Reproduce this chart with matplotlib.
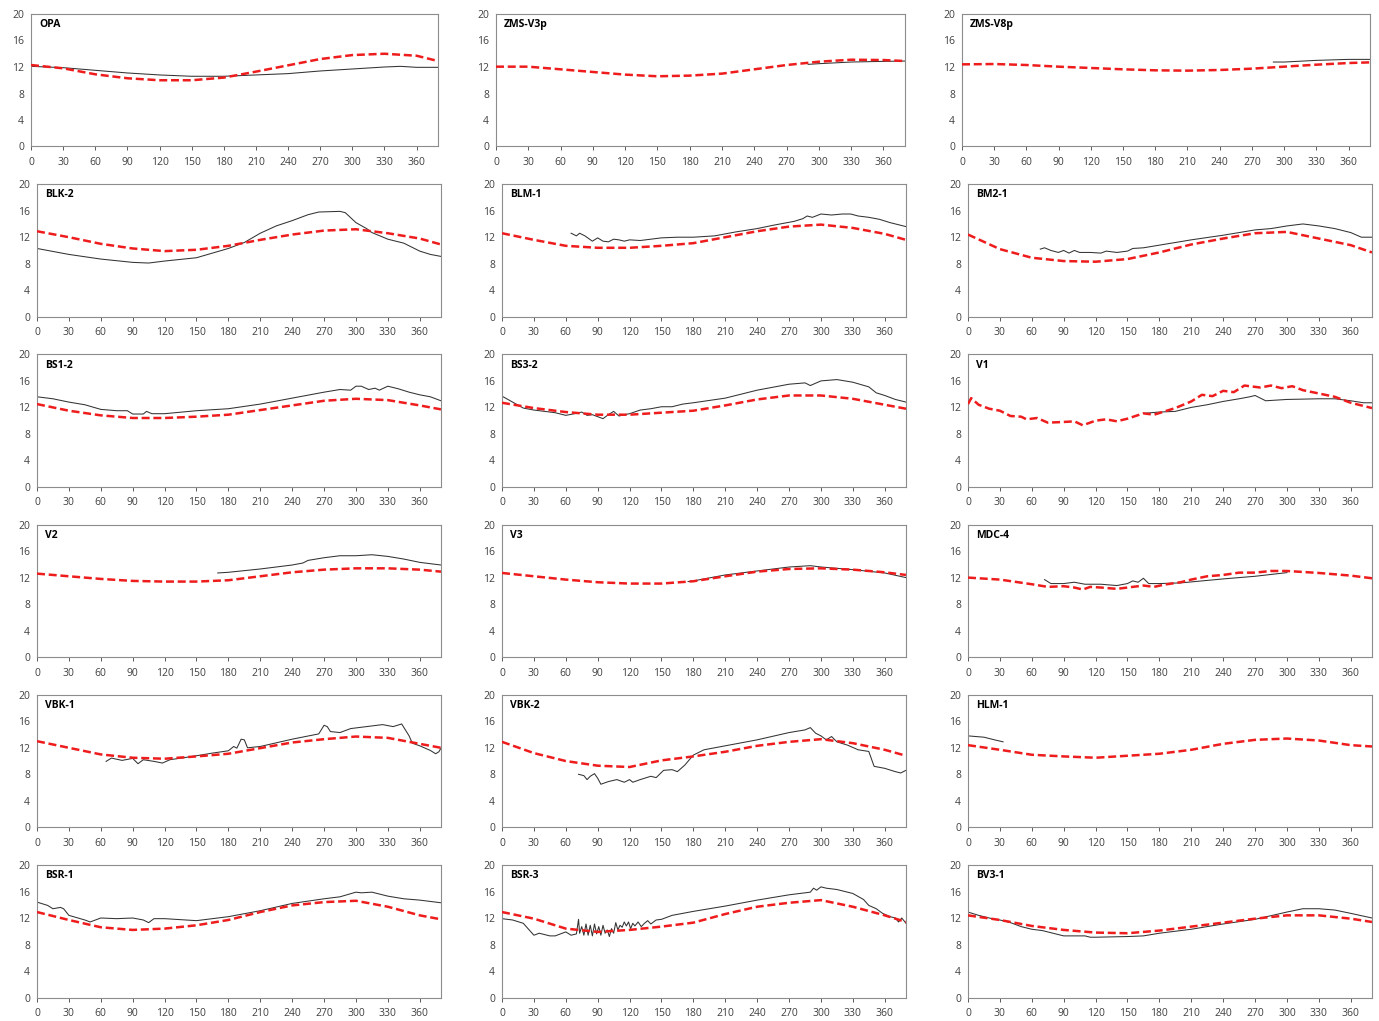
import matplotlib
matplotlib.use("Agg")
import matplotlib.pyplot as plt

plt.rcParams['font.family'] = ['Open Sans', 'DejaVu Sans']

names = ["OPA", "ZMS-V3p", "ZMS-V8p",
         "BLK-2", "BLM-1", "BM2-1",
         "BS1-2", "BS3-2", "V1",
         "V2", "V3", "MDC-4",
         "VBK-1", "VBK-2", "HLM-1",
         "BSR-1", "BSR-3", "BV3-1"]

xticks = [0, 30, 60, 90, 120, 150, 180, 210, 240, 270, 300, 330, 360]
yticks = [0, 4, 8, 12, 16, 20]

# ---- model (red dashed) ----
model_x = [0, 30, 60, 90, 120, 150, 180, 210, 240, 270, 300, 330, 360, 380]
OPA_model = [12.3, 11.8, 10.9, 10.3, 10.0, 10.0, 10.4, 11.3, 12.25, 13.2, 13.8, 14.0, 13.7, 12.9]
ZMSV3p_model = [12.05, 12.05, 11.65, 11.25, 10.85, 10.6, 10.7, 11.0, 11.65, 12.3, 12.8, 13.1, 13.05, 12.9]
ZMSV8p_model = [12.4, 12.45, 12.3, 12.05, 11.85, 11.65, 11.5, 11.45, 11.55, 11.75, 12.05, 12.35, 12.6, 12.7]
BLK2_model = [12.9, 12.0, 11.0, 10.3, 9.9, 10.1, 10.7, 11.6, 12.4, 13.0, 13.2, 12.6, 11.8, 10.9]
BLM1_model = [12.6, 11.6, 10.7, 10.4, 10.4, 10.7, 11.1, 12.0, 12.9, 13.6, 13.9, 13.4, 12.5, 11.6]
BM21_model = [12.4, 10.2, 8.9, 8.4, 8.3, 8.7, 9.7, 10.9, 11.8, 12.6, 12.8, 11.8, 10.8, 9.7]
BS12_model = [12.5, 11.5, 10.8, 10.4, 10.4, 10.6, 10.9, 11.6, 12.3, 13.0, 13.3, 13.1, 12.3, 11.7]
BS32_model = [12.7, 11.9, 11.3, 10.9, 10.9, 11.2, 11.5, 12.3, 13.2, 13.8, 13.8, 13.3, 12.4, 11.8]
V2_model = [12.6, 12.2, 11.8, 11.5, 11.4, 11.4, 11.6, 12.2, 12.8, 13.2, 13.4, 13.4, 13.2, 12.9]
V3_model = [12.7, 12.2, 11.7, 11.3, 11.1, 11.1, 11.45, 12.2, 12.9, 13.3, 13.4, 13.2, 12.8, 12.4]
VBK1_model = [13.0, 12.0, 11.0, 10.5, 10.35, 10.7, 11.1, 11.95, 12.8, 13.3, 13.7, 13.5, 12.6, 12.0]
VBK2_model = [12.9, 11.2, 10.0, 9.3, 9.1, 10.1, 10.7, 11.4, 12.3, 12.9, 13.3, 12.7, 11.7, 10.8]
HLM1_model = [12.4, 11.7, 10.95, 10.7, 10.5, 10.8, 11.1, 11.7, 12.6, 13.2, 13.4, 13.1, 12.4, 12.2]
BSR1_model = [12.9, 11.7, 10.6, 10.2, 10.4, 10.9, 11.7, 12.9, 13.9, 14.4, 14.6, 13.7, 12.4, 11.8]
BSR3_model = [12.9, 11.9, 10.4, 9.9, 10.2, 10.7, 11.3, 12.6, 13.7, 14.3, 14.7, 13.7, 12.4, 11.4]
BV31_model = [12.4, 11.7, 10.8, 10.2, 9.8, 9.7, 10.1, 10.7, 11.3, 11.9, 12.4, 12.4, 11.9, 11.4]

V1_model_x = [0, 3, 10, 20, 30, 40, 50, 55, 65, 75, 90, 100, 108, 120, 130, 140, 150, 165, 175, 185,
              195, 210, 220, 230, 240, 250, 260, 275, 285, 295, 305, 315, 330, 345, 360, 380]
V1_model = [12.5, 13.4, 12.4, 11.8, 11.5, 10.7, 10.6, 10.2, 10.4, 9.7, 9.8, 9.9, 9.3, 10.0, 10.2, 9.9, 10.3, 11.1, 10.9, 11.4,
            11.9, 12.9, 13.9, 13.7, 14.5, 14.3, 15.3, 15.0, 15.3, 14.9, 15.2, 14.6, 14.1, 13.6, 12.7, 11.9]
MDC4_model_x = [0, 30, 60, 75, 90, 100, 108, 115, 125, 140, 155, 165, 175, 185, 200, 210, 225, 240, 255,
                270, 285, 300, 330, 360, 380]
MDC4_model = [12.0, 11.7, 11.0, 10.6, 10.7, 10.5, 10.2, 10.6, 10.5, 10.3, 10.6, 10.8, 10.6, 10.95, 11.3, 11.7, 12.2, 12.4, 12.75,
              12.75, 13.0, 13.0, 12.7, 12.3, 11.9]

# ---- observations (black) ----
OPA_obs_x = [0, 30, 60, 90, 120, 150, 180, 210, 240, 270, 300, 330, 345, 360, 380]
OPA_obs = [12.1, 11.9, 11.5, 11.1, 10.8, 10.6, 10.6, 10.8, 11.0, 11.4, 11.7, 12.0, 12.1, 11.95, 11.95]
ZMSV3p_obs_x = [290, 300, 330, 360, 380]
ZMSV3p_obs = [12.4, 12.5, 12.75, 12.85, 12.9]
ZMSV8p_obs_x = [290, 300, 330, 360, 380]
ZMSV8p_obs = [12.75, 12.75, 13.0, 13.15, 13.15]
BLK2_obs_x = [0, 30, 60, 90, 105, 120, 150, 165, 180, 195, 210, 225, 240, 255, 265, 285, 290, 300, 310, 315,
              330, 345, 360, 370, 380]
BLK2_obs = [10.3, 9.4, 8.7, 8.2, 8.1, 8.4, 8.9, 9.6, 10.3, 11.2, 12.6, 13.7, 14.5, 15.4, 15.8, 15.9, 15.7, 14.2, 13.3, 12.7,
            11.7, 11.1, 9.9, 9.4, 9.1]
BLM1_obs_x = [65, 70, 73, 78, 85, 90, 95, 100, 105, 110, 115, 120, 130, 140, 150, 165, 180, 200, 220, 240,
              255, 265, 275, 283, 287, 292, 300, 310, 320, 328, 335, 345, 355, 365, 380]
BLM1_obs = [12.6, 12.2, 12.6, 12.2, 11.4, 11.9, 11.4, 11.3, 11.7, 11.6, 11.4, 11.6, 11.5, 11.7, 11.9, 12.0, 12.0, 12.2, 12.8, 13.3,
            13.8, 14.1, 14.4, 14.8, 15.2, 15.0, 15.5, 15.35, 15.5, 15.5, 15.2, 15.0, 14.7, 14.2, 13.6]
BM21_obs_x = [68, 72, 78, 85, 90, 95, 100, 105, 115, 125, 130, 140, 150, 155, 165, 180, 210, 240, 270, 285,
              300, 315, 330, 345, 360, 370, 380]
BM21_obs = [10.2, 10.4, 10.0, 9.7, 10.0, 9.6, 10.0, 9.7, 9.7, 9.6, 9.9, 9.7, 9.9, 10.3, 10.4, 10.8, 11.6, 12.3, 13.1, 13.3,
            13.7, 14.0, 13.7, 13.3, 12.7, 12.0, 12.0]
BS12_obs_x = [0, 15, 30, 45, 60, 75, 85, 90, 100, 103, 108, 120, 150, 180, 210, 240, 270, 285, 295, 300,
              305, 312, 318, 322, 330, 340, 350, 360, 370, 380]
BS12_obs = [13.6, 13.3, 12.8, 12.4, 11.7, 11.5, 11.5, 11.0, 11.0, 11.4, 11.05, 11.05, 11.5, 11.8, 12.5, 13.4, 14.3, 14.7, 14.6, 15.2,
            15.2, 14.7, 14.9, 14.6, 15.2, 14.8, 14.3, 13.9, 13.6, 13.0]
BS32_obs_x = [0, 10, 20, 30, 40, 50, 60, 70, 75, 80, 85, 90, 95, 100, 105, 110, 115, 120, 130, 140,
              150, 160, 170, 180, 210, 240, 270, 285, 290, 300, 315, 330, 345, 352, 360, 370, 380]
BS32_obs = [13.7, 12.8, 11.9, 11.6, 11.4, 11.2, 10.8, 11.1, 11.3, 10.8, 10.9, 10.6, 10.3, 10.9, 11.4, 10.7, 10.9, 11.05, 11.6, 11.8,
            12.1, 12.1, 12.5, 12.7, 13.4, 14.6, 15.5, 15.7, 15.3, 16.0, 16.2, 15.8, 15.1, 14.2, 13.8, 13.2, 12.8]
V1_obs_x = [165, 180, 195, 210, 225, 240, 255, 265, 270, 275, 280, 300, 330, 345, 360, 372, 380]
V1_obs = [11.1, 11.3, 11.4, 12.0, 12.4, 12.9, 13.3, 13.6, 13.8, 13.4, 13.0, 13.2, 13.3, 13.3, 13.0, 12.7, 12.7]
V2_obs_x = [170, 180, 210, 240, 250, 255, 270, 285, 300, 315, 330, 345, 360, 380]
V2_obs = [12.7, 12.8, 13.3, 13.9, 14.2, 14.6, 15.0, 15.3, 15.3, 15.45, 15.2, 14.8, 14.3, 13.9]
V3_obs_x = [175, 180, 210, 240, 270, 290, 300, 330, 360, 380]
V3_obs = [11.4, 11.5, 12.4, 13.0, 13.6, 13.8, 13.6, 13.2, 12.7, 12.0]
MDC4_obs_x = [72, 78, 90, 100, 110, 125, 140, 150, 155, 160, 165, 170, 180, 200, 240, 270, 300]
MDC4_obs = [11.7, 11.1, 11.1, 11.3, 11.0, 11.0, 10.8, 11.1, 11.5, 11.3, 11.9, 11.1, 11.1, 11.2, 11.8, 12.2, 12.75]
VBK1_obs_x = [65, 70, 80, 90, 95, 100, 110, 118, 125, 140, 150, 165, 180, 185, 188, 192, 195, 198, 210, 240,
              265, 270, 273, 276, 285, 295, 310, 325, 335, 343, 350, 353, 360, 365, 370, 375, 378, 380]
VBK1_obs = [9.95, 10.45, 10.1, 10.4, 9.6, 10.2, 9.95, 9.7, 10.2, 10.55, 10.8, 11.2, 11.55, 12.2, 11.95, 13.3, 13.2, 12.0, 12.2, 13.3,
            14.1, 15.4, 15.2, 14.45, 14.3, 14.9, 15.2, 15.5, 15.2, 15.6, 13.8, 12.7, 12.3, 11.95, 11.6, 11.1, 11.4, 11.95]
VBK2_obs_x = [72, 77, 80, 83, 87, 90, 93, 100, 108, 115, 120, 123, 130, 140, 145, 152, 160, 165, 172, 180,
              190, 210, 240, 270, 285, 290, 295, 300, 305, 310, 315, 325, 335, 345, 350, 360, 370, 375, 380]
VBK2_obs = [8.0, 7.8, 7.2, 7.7, 8.1, 7.4, 6.5, 6.9, 7.2, 6.8, 7.2, 6.8, 7.2, 7.7, 7.5, 8.6, 8.7, 8.4, 9.4, 10.9,
            11.7, 12.3, 13.2, 14.3, 14.7, 15.05, 14.2, 13.8, 13.2, 13.7, 12.9, 12.4, 11.7, 11.45, 9.2, 8.9, 8.4, 8.2, 8.6]
HLM1_obs_x = [0, 15, 25, 33]
HLM1_obs = [13.8, 13.6, 13.2, 12.9]
BSR1_obs_x = [0, 10, 15, 22, 25, 30, 45, 50, 60, 75, 90, 100, 105, 110, 120, 150, 180, 210, 240, 270,
              285, 300, 305, 315, 330, 345, 360, 380]
BSR1_obs = [14.4, 13.9, 13.4, 13.6, 13.4, 12.4, 11.7, 11.4, 12.0, 11.9, 12.0, 11.7, 11.3, 11.9, 11.9, 11.6, 12.2, 13.1, 14.2, 14.9,
            15.2, 15.9, 15.8, 15.9, 15.3, 14.9, 14.7, 14.3]
BSR3_obs_x = [0, 10, 20, 25, 30, 35, 45, 50, 60, 65, 70, 72, 73, 75, 77, 79, 81, 83, 85, 87,
              89, 91, 93, 95, 97, 99, 101, 103, 105, 107, 109, 111, 113, 115, 117, 119, 121, 123, 125, 128,
              131, 134, 137, 140, 145, 150, 160, 180, 210, 240, 270, 290, 293, 296, 300, 305, 315, 330, 340, 345,
              352, 358, 365, 370, 373, 376, 380]
BSR3_obs = [11.9, 11.7, 11.2, 10.3, 9.4, 9.7, 9.3, 9.3, 9.9, 9.4, 9.6, 11.8, 9.7, 10.7, 9.4, 11.1, 9.4, 10.9, 9.3, 11.1,
            9.6, 10.7, 9.4, 10.9, 9.7, 10.2, 9.2, 10.4, 9.7, 11.3, 10.2, 10.9, 10.6, 11.4, 10.8, 11.4, 10.4, 11.2, 10.8, 11.4,
            10.7, 11.2, 11.6, 11.1, 11.7, 11.8, 12.4, 13.0, 13.8, 14.7, 15.5, 15.9, 16.5, 16.2, 16.7, 16.5, 16.3, 15.7, 14.8, 13.9,
            13.4, 12.7, 12.2, 12.0, 11.4, 12.0, 11.2]
BV31_obs_x = [0, 10, 25, 30, 40, 50, 60, 70, 80, 90, 110, 115, 120, 150, 165, 180, 210, 240, 270, 300,
              315, 330, 345, 360, 380]
BV31_obs = [12.9, 12.4, 11.8, 11.7, 11.3, 10.7, 10.3, 10.1, 9.7, 9.3, 9.3, 9.1, 9.1, 9.2, 9.3, 9.7, 10.3, 11.1, 11.8, 12.9,
            13.4, 13.4, 13.2, 12.7, 12.0]

panels = [
    (OPA_obs_x, OPA_obs, model_x, OPA_model),
    (ZMSV3p_obs_x, ZMSV3p_obs, model_x, ZMSV3p_model),
    (ZMSV8p_obs_x, ZMSV8p_obs, model_x, ZMSV8p_model),
    (BLK2_obs_x, BLK2_obs, model_x, BLK2_model),
    (BLM1_obs_x, BLM1_obs, model_x, BLM1_model),
    (BM21_obs_x, BM21_obs, model_x, BM21_model),
    (BS12_obs_x, BS12_obs, model_x, BS12_model),
    (BS32_obs_x, BS32_obs, model_x, BS32_model),
    (V1_obs_x, V1_obs, V1_model_x, V1_model),
    (V2_obs_x, V2_obs, model_x, V2_model),
    (V3_obs_x, V3_obs, model_x, V3_model),
    (MDC4_obs_x, MDC4_obs, MDC4_model_x, MDC4_model),
    (VBK1_obs_x, VBK1_obs, model_x, VBK1_model),
    (VBK2_obs_x, VBK2_obs, model_x, VBK2_model),
    (HLM1_obs_x, HLM1_obs, model_x, HLM1_model),
    (BSR1_obs_x, BSR1_obs, model_x, BSR1_model),
    (BSR3_obs_x, BSR3_obs, model_x, BSR3_model),
    (BV31_obs_x, BV31_obs, model_x, BV31_model),
]

W, H = 1379, 1021
fig = plt.figure(figsize=(W / 100, H / 100), dpi=100)

for i, name in enumerate(names):
    r, c = divmod(i, 3)
    if r == 0:
        lefts = [31, 496, 962]
        rights = [438, 905, 1370]
    else:
        lefts = [37, 502, 968]
        rights = [441, 906, 1372]
    top = 14 + 170.2 * r
    bottom = top + 132.5
    ax = fig.add_axes([lefts[c] / W, 1 - bottom / H, (rights[c] - lefts[c]) / W, (bottom - top) / H])
    ox, oy, mx, my = panels[i]
    ax.plot(ox, oy, color='#333333', lw=0.75, zorder=2)
    ax.plot(mx, my, color='#ee1c1c', lw=1.8, dashes=(3.2, 1.5), zorder=3)
    ax.set_xlim(0, 380)
    ax.set_ylim(0, 20)
    ax.set_xticks(xticks)
    ax.set_yticks(yticks)
    ax.tick_params(labelsize=7.5, colors='#404040', length=3, width=0.6, pad=4.5)
    ax.tick_params(axis='y', length=0, pad=5)
    for s in ax.spines.values():
        s.set_color('#8c8c8c')
        s.set_linewidth(0.8)
    ax.text(0.02, 0.96, name, transform=ax.transAxes, fontsize=7.5, fontweight='bold',
            va='top', ha='left', color='black')

fig.savefig('out.png', dpi=100)
